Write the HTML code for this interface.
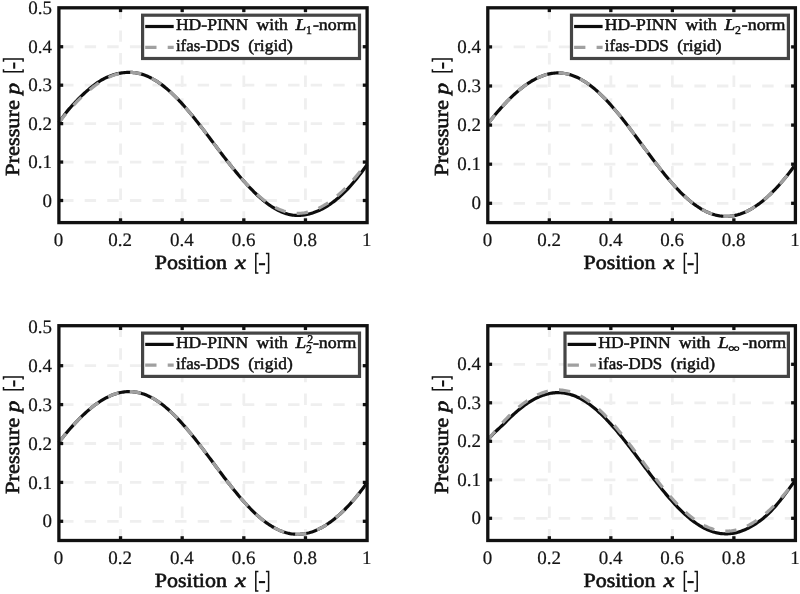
<!DOCTYPE html>
<html><head><meta charset="utf-8"><title>chart</title>
<style>
html,body{margin:0;padding:0;background:#fff;}
#wrap{width:800px;height:594px;overflow:hidden;will-change:transform;transform:translateZ(0);}
svg{display:block;font-family:"Liberation Serif",serif;text-rendering:geometricPrecision;}
.grid{stroke:#efefef;stroke-width:2.8;stroke-dasharray:11.4 11.2;fill:none}
.blk{stroke:#0d0d0d;stroke-width:3.2;fill:none;stroke-linejoin:round}
.gry{stroke:#a0a0a0;stroke-width:3.2;fill:none;stroke-dasharray:11.3 11.2;stroke-linejoin:round}
.tick{stroke:#111;stroke-width:3.3}
.box{stroke:#111;stroke-width:3.3;fill:none}
.lbox{stroke:#454545;stroke-width:3.2;fill:#fff}
.tl{font-size:19px;fill:#151515;stroke:#151515;stroke-width:0.2}
.al{font-size:20px;fill:#111;stroke:#111;stroke-width:0.6}
.lt{font-size:16.6px;fill:#111;stroke:#111;stroke-width:0.5}
.it{font-style:italic}
.brk{fill:none;stroke:#111;stroke-width:1.5}
.hyp{fill:none;stroke:#111;stroke-width:2.1}
.sub{font-size:11.8px;fill:#111;stroke:#111;stroke-width:0.45}
</style></head>
<body>
<div id="wrap">
<svg width="800" height="594" viewBox="0 0 800 594">
<rect width="800" height="594" fill="#fff"/>
<line x1="120.54" y1="222.6" x2="120.54" y2="7.8" class="grid"/>
<line x1="182.18" y1="222.6" x2="182.18" y2="7.8" class="grid"/>
<line x1="243.82" y1="222.6" x2="243.82" y2="7.8" class="grid"/>
<line x1="305.46" y1="222.6" x2="305.46" y2="7.8" class="grid"/>
<line x1="62.1" y1="200.50" x2="367.1" y2="200.50" class="grid"/>
<line x1="62.1" y1="162.06" x2="367.1" y2="162.06" class="grid"/>
<line x1="62.1" y1="123.62" x2="367.1" y2="123.62" class="grid"/>
<line x1="62.1" y1="85.18" x2="367.1" y2="85.18" class="grid"/>
<line x1="62.1" y1="46.74" x2="367.1" y2="46.74" class="grid"/>
<polyline points="58.90,122.41 60.18,120.73 61.47,118.98 62.75,117.19 64.04,115.39 65.32,113.63 66.61,111.95 67.89,110.38 69.17,108.90 70.46,107.46 71.74,106.03 73.03,104.63 74.31,103.25 75.59,101.89 76.88,100.55 78.16,99.24 79.45,97.95 80.73,96.69 82.02,95.45 83.30,94.23 84.58,93.05 85.87,91.88 87.15,90.75 88.44,89.64 89.72,88.56 91.00,87.50 92.29,86.48 93.57,85.48 94.86,84.52 96.14,83.58 97.43,82.68 98.71,81.82 99.99,81.01 101.28,80.23 102.56,79.50 103.85,78.80 105.13,78.15 106.41,77.53 107.70,76.95 108.98,76.41 110.27,75.91 111.55,75.44 112.84,75.01 114.12,74.61 115.40,74.24 116.69,73.91 117.97,73.62 119.26,73.35 120.54,73.12 121.82,72.92 123.11,72.75 124.39,72.60 125.68,72.49 126.96,72.40 128.25,72.35 129.53,72.34 130.81,72.37 132.10,72.43 133.38,72.54 134.67,72.69 135.95,72.87 137.23,73.10 138.52,73.36 139.80,73.66 141.09,74.00 142.37,74.39 143.66,74.81 144.94,75.27 146.22,75.76 147.51,76.30 148.79,76.88 150.08,77.49 151.36,78.14 152.64,78.83 153.93,79.55 155.21,80.31 156.50,81.11 157.78,81.94 159.07,82.81 160.35,83.71 161.63,84.65 162.92,85.62 164.20,86.63 165.49,87.67 166.77,88.74 168.05,89.84 169.34,90.97 170.62,92.13 171.91,93.33 173.19,94.55 174.48,95.80 175.76,97.08 177.04,98.38 178.33,99.72 179.61,101.07 180.90,102.45 182.18,103.86 183.46,105.29 184.75,106.74 186.03,108.21 187.32,109.70 188.60,111.21 189.89,112.74 191.17,114.29 192.45,115.86 193.74,117.44 195.02,119.03 196.31,120.64 197.59,122.27 198.87,123.90 200.16,125.55 201.44,127.21 202.73,128.87 204.01,130.55 205.30,132.23 206.58,133.91 207.86,135.61 209.15,137.30 210.43,139.00 211.72,140.71 213.00,142.41 214.28,144.11 215.57,145.81 216.85,147.52 218.14,149.21 219.42,150.91 220.71,152.60 221.99,154.28 223.27,155.95 224.56,157.62 225.84,159.28 227.13,160.93 228.41,162.57 229.69,164.20 230.98,165.81 232.26,167.41 233.55,168.99 234.83,170.56 236.12,172.12 237.40,173.65 238.68,175.17 239.97,176.68 241.25,178.17 242.54,179.64 243.82,181.10 245.10,182.54 246.39,183.96 247.67,185.36 248.96,186.74 250.24,188.09 251.53,189.43 252.81,190.73 254.09,192.02 255.38,193.27 256.66,194.51 257.95,195.71 259.23,196.88 260.51,198.03 261.80,199.14 263.08,200.23 264.37,201.28 265.65,202.30 266.94,203.28 268.22,204.23 269.50,205.15 270.79,206.03 272.07,206.88 273.36,207.69 274.64,208.46 275.92,209.19 277.21,209.89 278.49,210.54 279.78,211.16 281.06,211.74 282.35,212.27 283.63,212.77 284.91,213.23 286.20,213.64 287.48,214.01 288.77,214.34 290.05,214.63 291.33,214.87 292.62,215.07 293.90,215.23 295.19,215.34 296.47,215.41 297.76,215.44 299.04,215.42 300.32,215.36 301.61,215.26 302.89,215.12 304.18,214.95 305.46,214.73 306.74,214.48 308.03,214.20 309.31,213.89 310.60,213.54 311.88,213.16 313.17,212.75 314.45,212.31 315.73,211.84 317.02,211.33 318.30,210.79 319.59,210.21 320.87,209.60 322.15,208.96 323.44,208.28 324.72,207.57 326.01,206.82 327.29,206.04 328.58,205.23 329.86,204.38 331.14,203.49 332.43,202.57 333.71,201.62 335.00,200.63 336.28,199.60 337.56,198.54 338.85,197.44 340.13,196.31 341.42,195.14 342.70,193.93 343.99,192.69 345.27,191.42 346.55,190.12 347.84,188.78 349.12,187.40 350.41,185.98 351.69,184.52 352.97,183.04 354.26,181.51 355.54,179.96 356.83,178.38 358.11,176.76 359.40,175.12 360.68,173.46 361.96,171.77 363.25,170.05 364.53,168.31 365.82,166.55 367.10,164.77" class="blk"/>
<polyline points="58.90,122.41 60.18,120.79 61.47,119.20 62.75,117.62 64.04,116.06 65.32,114.53 66.61,113.02 67.89,111.53 69.17,110.06 70.46,108.61 71.74,107.18 73.03,105.78 74.31,104.40 75.59,103.04 76.88,101.70 78.16,100.39 79.45,99.10 80.73,97.84 82.02,96.60 83.30,95.39 84.58,94.20 85.87,93.04 87.15,91.90 88.44,90.79 89.72,89.71 91.00,88.66 92.29,87.63 93.57,86.64 94.86,85.67 96.14,84.73 97.43,83.83 98.71,82.95 99.99,82.11 101.28,81.29 102.56,80.51 103.85,79.77 105.13,79.05 106.41,78.37 107.70,77.73 108.98,77.12 110.27,76.54 111.55,76.00 112.84,75.50 114.12,75.03 115.40,74.60 116.69,74.20 117.97,73.84 119.26,73.52 120.54,73.24 121.82,73.00 123.11,72.79 124.39,72.62 125.68,72.49 126.96,72.40 128.25,72.35 129.53,72.34 130.81,72.37 132.10,72.43 133.38,72.54 134.67,72.69 135.95,72.87 137.23,73.10 138.52,73.36 139.80,73.66 141.09,74.00 142.37,74.39 143.66,74.81 144.94,75.27 146.22,75.76 147.51,76.30 148.79,76.88 150.08,77.49 151.36,78.14 152.64,78.83 153.93,79.55 155.21,80.31 156.50,81.11 157.78,81.94 159.07,82.81 160.35,83.71 161.63,84.65 162.92,85.62 164.20,86.63 165.49,87.67 166.77,88.74 168.05,89.84 169.34,90.97 170.62,92.13 171.91,93.33 173.19,94.55 174.48,95.80 175.76,97.08 177.04,98.38 178.33,99.72 179.61,101.07 180.90,102.45 182.18,103.86 183.46,105.29 184.75,106.74 186.03,108.21 187.32,109.70 188.60,111.21 189.89,112.74 191.17,114.29 192.45,115.86 193.74,117.44 195.02,119.03 196.31,120.64 197.59,122.27 198.87,123.90 200.16,125.55 201.44,127.21 202.73,128.87 204.01,130.55 205.30,132.23 206.58,133.91 207.86,135.61 209.15,137.30 210.43,139.00 211.72,140.71 213.00,142.41 214.28,144.11 215.57,145.81 216.85,147.52 218.14,149.21 219.42,150.91 220.71,152.60 221.99,154.28 223.27,155.95 224.56,157.62 225.84,159.28 227.13,160.93 228.41,162.57 229.69,164.20 230.98,165.81 232.26,167.41 233.55,168.99 234.83,170.56 236.12,172.12 237.40,173.65 238.68,175.17 239.97,176.67 241.25,178.15 242.54,179.61 243.82,181.04 245.10,182.45 246.39,183.84 247.67,185.21 248.96,186.55 250.24,187.86 251.53,189.15 252.81,190.41 254.09,191.65 255.38,192.85 256.66,194.03 257.95,195.17 259.23,196.29 260.51,197.37 261.80,198.42 263.08,199.44 264.37,200.43 265.65,201.38 266.94,202.30 268.22,203.19 269.50,204.04 270.79,204.86 272.07,205.64 273.36,206.38 274.64,207.09 275.92,207.76 277.21,208.39 278.49,208.99 279.78,209.55 281.06,210.07 282.35,210.55 283.63,211.00 284.91,211.40 286.20,211.77 287.48,212.10 288.77,212.39 290.05,212.64 291.33,212.85 292.62,213.03 293.90,213.16 295.19,213.26 296.47,213.31 297.76,213.33 299.04,213.31 300.32,213.25 301.61,213.15 302.89,213.01 304.18,212.83 305.46,212.62 306.74,212.36 308.03,212.07 309.31,211.74 310.60,211.38 311.88,210.97 313.17,210.53 314.45,210.05 315.73,209.54 317.02,208.99 318.30,208.40 319.59,207.78 320.87,207.12 322.15,206.43 323.44,205.71 324.72,204.94 326.01,204.15 327.29,203.32 328.58,202.46 329.86,201.56 331.14,200.63 332.43,199.67 333.71,198.68 335.00,197.66 336.28,196.60 337.56,195.51 338.85,194.39 340.13,193.25 341.42,192.07 342.70,190.86 343.99,189.62 345.27,188.35 346.55,187.05 347.84,185.72 349.12,184.37 350.41,182.98 351.69,181.56 352.97,180.12 354.26,178.65 355.54,177.14 356.83,175.61 358.11,174.05 359.40,172.46 360.68,170.84 361.96,169.18 363.25,167.50 364.53,165.79 365.82,164.05 367.10,162.27" class="gry"/>
<line x1="120.54" y1="222.6" x2="120.54" y2="218.29999999999998" class="tick"/>
<line x1="120.54" y1="7.8" x2="120.54" y2="12.1" class="tick"/>
<line x1="182.18" y1="222.6" x2="182.18" y2="218.29999999999998" class="tick"/>
<line x1="182.18" y1="7.8" x2="182.18" y2="12.1" class="tick"/>
<line x1="243.82" y1="222.6" x2="243.82" y2="218.29999999999998" class="tick"/>
<line x1="243.82" y1="7.8" x2="243.82" y2="12.1" class="tick"/>
<line x1="305.46" y1="222.6" x2="305.46" y2="218.29999999999998" class="tick"/>
<line x1="305.46" y1="7.8" x2="305.46" y2="12.1" class="tick"/>
<line x1="58.9" y1="200.50" x2="63.199999999999996" y2="200.50" class="tick"/>
<line x1="367.1" y1="200.50" x2="362.8" y2="200.50" class="tick"/>
<line x1="58.9" y1="162.06" x2="63.199999999999996" y2="162.06" class="tick"/>
<line x1="367.1" y1="162.06" x2="362.8" y2="162.06" class="tick"/>
<line x1="58.9" y1="123.62" x2="63.199999999999996" y2="123.62" class="tick"/>
<line x1="367.1" y1="123.62" x2="362.8" y2="123.62" class="tick"/>
<line x1="58.9" y1="85.18" x2="63.199999999999996" y2="85.18" class="tick"/>
<line x1="367.1" y1="85.18" x2="362.8" y2="85.18" class="tick"/>
<line x1="58.9" y1="46.74" x2="63.199999999999996" y2="46.74" class="tick"/>
<line x1="367.1" y1="46.74" x2="362.8" y2="46.74" class="tick"/>
<rect x="58.9" y="7.8" width="308.20" height="214.80" class="box"/>
<text x="58.60" y="246.20" class="tl" text-anchor="middle">0</text>
<text x="120.24" y="246.20" class="tl" text-anchor="middle">0.2</text>
<text x="181.88" y="246.20" class="tl" text-anchor="middle">0.4</text>
<text x="243.52" y="246.20" class="tl" text-anchor="middle">0.6</text>
<text x="305.16" y="246.20" class="tl" text-anchor="middle">0.8</text>
<text x="366.80" y="246.20" class="tl" text-anchor="middle">1</text>
<text x="52.10" y="206.60" class="tl" text-anchor="end">0</text>
<text x="52.10" y="168.16" class="tl" text-anchor="end">0.1</text>
<text x="52.10" y="129.72" class="tl" text-anchor="end">0.2</text>
<text x="52.10" y="91.28" class="tl" text-anchor="end">0.3</text>
<text x="52.10" y="52.84" class="tl" text-anchor="end">0.4</text>
<text x="52.10" y="14.40" class="tl" text-anchor="end">0.5</text>
<text x="154.80" y="268.90" class="al" text-anchor="start" textLength="72.20" lengthAdjust="spacingAndGlyphs">Position</text>
<text x="235.00" y="268.90" class="al it" text-anchor="start" textLength="11.00" lengthAdjust="spacingAndGlyphs">x</text>
<path d="M258.40,253.50 H255.80 V273.10 H258.40" class="brk"/><path d="M258.90,264.20 H265.10" class="hyp"/><path d="M265.90,253.50 H268.60 V273.10 H265.90" class="brk"/>
<g transform="translate(18.90,115.80) rotate(-90)">
<text x="-60.20" y="0.00" class="al" text-anchor="start" textLength="76.00" lengthAdjust="spacingAndGlyphs">Pressure</text>
<text x="21.40" y="0.00" class="al it" text-anchor="start" textLength="11.60" lengthAdjust="spacingAndGlyphs">p</text>
<path d="M46.60,-15.40 H44.00 V4.20 H46.60" class="brk"/><path d="M47.10,-4.70 H53.30" class="hyp"/><path d="M54.10,-15.40 H56.80 V4.20 H54.10" class="brk"/>
</g>
<rect x="142.60" y="15.20" width="216.90" height="43.30" class="lbox"/>
<line x1="145.20" y1="26.50" x2="173.70" y2="26.50" class="blk"/>
<line x1="145.20" y1="47.30" x2="173.70" y2="47.30" class="gry"/>
<text x="175.90" y="30.20" class="lt" text-anchor="start" textLength="72.40" lengthAdjust="spacingAndGlyphs">HD-PINN</text>
<text x="256.50" y="30.20" class="lt" text-anchor="start" textLength="31.40" lengthAdjust="spacingAndGlyphs">with</text>
<text x="295.50" y="30.20" class="lt it" text-anchor="start" textLength="10.80" lengthAdjust="spacingAndGlyphs">L</text>
<text x="306.10" y="33.80" class="sub" text-anchor="start">1</text>
<text x="312.90" y="30.20" class="lt" text-anchor="start" textLength="43.60" lengthAdjust="spacingAndGlyphs">-norm</text>
<text x="175.90" y="51.40" class="lt" text-anchor="start" textLength="64.00" lengthAdjust="spacingAndGlyphs">ifas-DDS</text>
<text x="248.30" y="51.40" class="lt" text-anchor="start" textLength="44.40" lengthAdjust="spacingAndGlyphs">(rigid)</text>
<line x1="549.32" y1="222.6" x2="549.32" y2="7.8" class="grid"/>
<line x1="610.84" y1="222.6" x2="610.84" y2="7.8" class="grid"/>
<line x1="672.36" y1="222.6" x2="672.36" y2="7.8" class="grid"/>
<line x1="733.88" y1="222.6" x2="733.88" y2="7.8" class="grid"/>
<line x1="491.0" y1="203.30" x2="795.4" y2="203.30" class="grid"/>
<line x1="491.0" y1="164.20" x2="795.4" y2="164.20" class="grid"/>
<line x1="491.0" y1="125.10" x2="795.4" y2="125.10" class="grid"/>
<line x1="491.0" y1="86.00" x2="795.4" y2="86.00" class="grid"/>
<line x1="491.0" y1="46.90" x2="795.4" y2="46.90" class="grid"/>
<polyline points="487.80,123.87 489.08,122.23 490.36,120.60 491.65,119.00 492.93,117.42 494.21,115.85 495.49,114.32 496.77,112.80 498.05,111.30 499.34,109.83 500.62,108.38 501.90,106.95 503.18,105.55 504.46,104.17 505.74,102.81 507.03,101.47 508.31,100.16 509.59,98.88 510.87,97.62 512.15,96.38 513.43,95.17 514.72,93.99 516.00,92.84 517.28,91.71 518.56,90.61 519.84,89.54 521.12,88.49 522.40,87.48 523.69,86.50 524.97,85.54 526.25,84.62 527.53,83.73 528.81,82.87 530.10,82.05 531.38,81.25 532.66,80.49 533.94,79.77 535.22,79.08 536.50,78.42 537.78,77.80 539.07,77.21 540.35,76.66 541.63,76.15 542.91,75.67 544.19,75.23 545.48,74.83 546.76,74.47 548.04,74.14 549.32,73.85 550.60,73.61 551.88,73.40 553.16,73.23 554.45,73.09 555.73,73.00 557.01,72.95 558.29,72.94 559.57,72.97 560.86,73.04 562.14,73.14 563.42,73.29 564.70,73.48 565.98,73.71 567.26,73.98 568.54,74.28 569.83,74.63 571.11,75.02 572.39,75.45 573.67,75.92 574.95,76.42 576.24,76.97 577.52,77.55 578.80,78.18 580.08,78.84 581.36,79.54 582.64,80.27 583.92,81.05 585.21,81.86 586.49,82.71 587.77,83.59 589.05,84.51 590.33,85.46 591.62,86.45 592.90,87.47 594.18,88.53 595.46,89.62 596.74,90.74 598.02,91.89 599.30,93.07 600.59,94.29 601.87,95.53 603.15,96.80 604.43,98.10 605.71,99.43 607.00,100.78 608.28,102.16 609.56,103.57 610.84,105.00 612.12,106.45 613.40,107.93 614.68,109.42 615.97,110.94 617.25,112.48 618.53,114.04 619.81,115.61 621.09,117.20 622.38,118.81 623.66,120.44 624.94,122.07 626.22,123.72 627.50,125.39 628.78,127.06 630.07,128.75 631.35,130.44 632.63,132.14 633.91,133.85 635.19,135.57 636.47,137.29 637.75,139.02 639.04,140.75 640.32,142.48 641.60,144.21 642.88,145.94 644.16,147.68 645.44,149.41 646.73,151.13 648.01,152.86 649.29,154.57 650.57,156.28 651.85,157.99 653.13,159.69 654.42,161.37 655.70,163.05 656.98,164.72 658.26,166.37 659.54,168.01 660.83,169.64 662.11,171.25 663.39,172.85 664.67,174.43 665.95,175.99 667.23,177.54 668.51,179.06 669.80,180.56 671.08,182.05 672.36,183.51 673.64,184.94 674.92,186.36 676.21,187.75 677.49,189.11 678.77,190.45 680.05,191.76 681.33,193.04 682.61,194.29 683.89,195.52 685.18,196.72 686.46,197.88 687.74,199.01 689.02,200.12 690.30,201.19 691.59,202.22 692.87,203.23 694.15,204.20 695.43,205.13 696.71,206.04 697.99,206.90 699.27,207.73 700.56,208.52 701.84,209.28 703.12,210.00 704.40,210.68 705.68,211.33 706.97,211.93 708.25,212.50 709.53,213.03 710.81,213.52 712.09,213.98 713.37,214.39 714.65,214.76 715.94,215.10 717.22,215.39 718.50,215.65 719.78,215.86 721.06,216.04 722.35,216.18 723.63,216.27 724.91,216.33 726.19,216.35 727.47,216.33 728.75,216.26 730.03,216.16 731.32,216.02 732.60,215.84 733.88,215.62 735.16,215.37 736.44,215.07 737.73,214.74 739.01,214.36 740.29,213.95 741.57,213.50 742.85,213.02 744.13,212.50 745.41,211.94 746.70,211.34 747.98,210.71 749.26,210.04 750.54,209.33 751.82,208.60 753.11,207.82 754.39,207.01 755.67,206.17 756.95,205.29 758.23,204.38 759.51,203.44 760.79,202.46 762.08,201.45 763.36,200.41 764.64,199.33 765.92,198.23 767.20,197.09 768.48,195.92 769.77,194.72 771.05,193.49 772.33,192.23 773.61,190.94 774.89,189.62 776.17,188.27 777.46,186.89 778.74,185.48 780.02,184.04 781.30,182.57 782.58,181.07 783.87,179.54 785.15,177.98 786.43,176.39 787.71,174.78 788.99,173.13 790.27,171.45 791.56,169.74 792.84,167.99 794.12,166.22 795.40,164.41" class="blk"/>
<polyline points="487.80,123.87 489.08,122.23 490.36,120.60 491.65,119.00 492.93,117.42 494.21,115.85 495.49,114.32 496.77,112.80 498.05,111.30 499.34,109.83 500.62,108.38 501.90,106.95 503.18,105.55 504.46,104.17 505.74,102.81 507.03,101.47 508.31,100.16 509.59,98.88 510.87,97.62 512.15,96.38 513.43,95.17 514.72,93.99 516.00,92.84 517.28,91.71 518.56,90.61 519.84,89.54 521.12,88.49 522.40,87.48 523.69,86.50 524.97,85.54 526.25,84.62 527.53,83.73 528.81,82.87 530.10,82.05 531.38,81.25 532.66,80.49 533.94,79.77 535.22,79.08 536.50,78.42 537.78,77.80 539.07,77.21 540.35,76.66 541.63,76.15 542.91,75.67 544.19,75.23 545.48,74.83 546.76,74.47 548.04,74.14 549.32,73.85 550.60,73.61 551.88,73.40 553.16,73.23 554.45,73.09 555.73,73.00 557.01,72.95 558.29,72.94 559.57,72.97 560.86,73.04 562.14,73.14 563.42,73.29 564.70,73.48 565.98,73.71 567.26,73.98 568.54,74.28 569.83,74.63 571.11,75.02 572.39,75.45 573.67,75.92 574.95,76.42 576.24,76.97 577.52,77.55 578.80,78.18 580.08,78.84 581.36,79.54 582.64,80.27 583.92,81.05 585.21,81.86 586.49,82.71 587.77,83.59 589.05,84.51 590.33,85.46 591.62,86.45 592.90,87.47 594.18,88.53 595.46,89.62 596.74,90.74 598.02,91.89 599.30,93.07 600.59,94.29 601.87,95.53 603.15,96.80 604.43,98.10 605.71,99.43 607.00,100.78 608.28,102.16 609.56,103.57 610.84,105.00 612.12,106.45 613.40,107.93 614.68,109.42 615.97,110.94 617.25,112.48 618.53,114.04 619.81,115.61 621.09,117.20 622.38,118.81 623.66,120.44 624.94,122.07 626.22,123.72 627.50,125.39 628.78,127.06 630.07,128.75 631.35,130.44 632.63,132.14 633.91,133.85 635.19,135.57 636.47,137.29 637.75,139.02 639.04,140.75 640.32,142.48 641.60,144.21 642.88,145.94 644.16,147.68 645.44,149.41 646.73,151.13 648.01,152.86 649.29,154.57 650.57,156.28 651.85,157.99 653.13,159.69 654.42,161.37 655.70,163.05 656.98,164.72 658.26,166.37 659.54,168.01 660.83,169.64 662.11,171.25 663.39,172.85 664.67,174.43 665.95,175.99 667.23,177.54 668.51,179.06 669.80,180.56 671.08,182.05 672.36,183.51 673.64,184.94 674.92,186.36 676.21,187.75 677.49,189.11 678.77,190.45 680.05,191.76 681.33,193.04 682.61,194.29 683.89,195.52 685.18,196.72 686.46,197.88 687.74,199.01 689.02,200.12 690.30,201.19 691.59,202.22 692.87,203.23 694.15,204.20 695.43,205.13 696.71,206.04 697.99,206.90 699.27,207.73 700.56,208.52 701.84,209.28 703.12,210.00 704.40,210.68 705.68,211.33 706.97,211.93 708.25,212.50 709.53,213.03 710.81,213.52 712.09,213.98 713.37,214.39 714.65,214.76 715.94,215.10 717.22,215.39 718.50,215.65 719.78,215.86 721.06,216.04 722.35,216.18 723.63,216.27 724.91,216.33 726.19,216.35 727.47,216.33 728.75,216.26 730.03,216.16 731.32,216.02 732.60,215.84 733.88,215.62 735.16,215.37 736.44,215.07 737.73,214.74 739.01,214.36 740.29,213.95 741.57,213.50 742.85,213.02 744.13,212.50 745.41,211.94 746.70,211.34 747.98,210.71 749.26,210.04 750.54,209.33 751.82,208.60 753.11,207.82 754.39,207.01 755.67,206.17 756.95,205.29 758.23,204.38 759.51,203.44 760.79,202.46 762.08,201.45 763.36,200.41 764.64,199.33 765.92,198.23 767.20,197.09 768.48,195.92 769.77,194.72 771.05,193.49 772.33,192.23 773.61,190.94 774.89,189.62 776.17,188.27 777.46,186.89 778.74,185.48 780.02,184.04 781.30,182.57 782.58,181.07 783.87,179.54 785.15,177.98 786.43,176.39 787.71,174.78 788.99,173.13 790.27,171.45 791.56,169.74 792.84,167.99 794.12,166.22 795.40,164.41" class="gry"/>
<line x1="549.32" y1="222.6" x2="549.32" y2="218.29999999999998" class="tick"/>
<line x1="549.32" y1="7.8" x2="549.32" y2="12.1" class="tick"/>
<line x1="610.84" y1="222.6" x2="610.84" y2="218.29999999999998" class="tick"/>
<line x1="610.84" y1="7.8" x2="610.84" y2="12.1" class="tick"/>
<line x1="672.36" y1="222.6" x2="672.36" y2="218.29999999999998" class="tick"/>
<line x1="672.36" y1="7.8" x2="672.36" y2="12.1" class="tick"/>
<line x1="733.88" y1="222.6" x2="733.88" y2="218.29999999999998" class="tick"/>
<line x1="733.88" y1="7.8" x2="733.88" y2="12.1" class="tick"/>
<line x1="487.8" y1="203.30" x2="492.1" y2="203.30" class="tick"/>
<line x1="795.4" y1="203.30" x2="791.1" y2="203.30" class="tick"/>
<line x1="487.8" y1="164.20" x2="492.1" y2="164.20" class="tick"/>
<line x1="795.4" y1="164.20" x2="791.1" y2="164.20" class="tick"/>
<line x1="487.8" y1="125.10" x2="492.1" y2="125.10" class="tick"/>
<line x1="795.4" y1="125.10" x2="791.1" y2="125.10" class="tick"/>
<line x1="487.8" y1="86.00" x2="492.1" y2="86.00" class="tick"/>
<line x1="795.4" y1="86.00" x2="791.1" y2="86.00" class="tick"/>
<line x1="487.8" y1="46.90" x2="492.1" y2="46.90" class="tick"/>
<line x1="795.4" y1="46.90" x2="791.1" y2="46.90" class="tick"/>
<rect x="487.8" y="7.8" width="307.60" height="214.80" class="box"/>
<text x="487.50" y="246.20" class="tl" text-anchor="middle">0</text>
<text x="549.02" y="246.20" class="tl" text-anchor="middle">0.2</text>
<text x="610.54" y="246.20" class="tl" text-anchor="middle">0.4</text>
<text x="672.06" y="246.20" class="tl" text-anchor="middle">0.6</text>
<text x="733.58" y="246.20" class="tl" text-anchor="middle">0.8</text>
<text x="795.10" y="246.20" class="tl" text-anchor="middle">1</text>
<text x="481.00" y="209.40" class="tl" text-anchor="end">0</text>
<text x="481.00" y="170.30" class="tl" text-anchor="end">0.1</text>
<text x="481.00" y="131.20" class="tl" text-anchor="end">0.2</text>
<text x="481.00" y="92.10" class="tl" text-anchor="end">0.3</text>
<text x="481.00" y="53.00" class="tl" text-anchor="end">0.4</text>
<text x="583.40" y="268.90" class="al" text-anchor="start" textLength="72.20" lengthAdjust="spacingAndGlyphs">Position</text>
<text x="663.60" y="268.90" class="al it" text-anchor="start" textLength="11.00" lengthAdjust="spacingAndGlyphs">x</text>
<path d="M687.00,253.50 H684.40 V273.10 H687.00" class="brk"/><path d="M687.50,264.20 H693.70" class="hyp"/><path d="M694.50,253.50 H697.20 V273.10 H694.50" class="brk"/>
<g transform="translate(447.80,115.80) rotate(-90)">
<text x="-60.20" y="0.00" class="al" text-anchor="start" textLength="76.00" lengthAdjust="spacingAndGlyphs">Pressure</text>
<text x="21.40" y="0.00" class="al it" text-anchor="start" textLength="11.60" lengthAdjust="spacingAndGlyphs">p</text>
<path d="M46.60,-15.40 H44.00 V4.20 H46.60" class="brk"/><path d="M47.10,-4.70 H53.30" class="hyp"/><path d="M54.10,-15.40 H56.80 V4.20 H54.10" class="brk"/>
</g>
<rect x="571.50" y="15.20" width="216.90" height="43.30" class="lbox"/>
<line x1="574.10" y1="26.50" x2="602.60" y2="26.50" class="blk"/>
<line x1="574.10" y1="47.30" x2="602.60" y2="47.30" class="gry"/>
<text x="604.80" y="30.20" class="lt" text-anchor="start" textLength="72.40" lengthAdjust="spacingAndGlyphs">HD-PINN</text>
<text x="685.40" y="30.20" class="lt" text-anchor="start" textLength="31.40" lengthAdjust="spacingAndGlyphs">with</text>
<text x="724.40" y="30.20" class="lt it" text-anchor="start" textLength="10.80" lengthAdjust="spacingAndGlyphs">L</text>
<text x="735.00" y="33.80" class="sub" text-anchor="start">2</text>
<text x="741.80" y="30.20" class="lt" text-anchor="start" textLength="43.60" lengthAdjust="spacingAndGlyphs">-norm</text>
<text x="604.80" y="51.40" class="lt" text-anchor="start" textLength="64.00" lengthAdjust="spacingAndGlyphs">ifas-DDS</text>
<text x="677.20" y="51.40" class="lt" text-anchor="start" textLength="44.40" lengthAdjust="spacingAndGlyphs">(rigid)</text>
<line x1="120.54" y1="540.5" x2="120.54" y2="325.7" class="grid"/>
<line x1="182.18" y1="540.5" x2="182.18" y2="325.7" class="grid"/>
<line x1="243.82" y1="540.5" x2="243.82" y2="325.7" class="grid"/>
<line x1="305.46" y1="540.5" x2="305.46" y2="325.7" class="grid"/>
<line x1="62.1" y1="521.30" x2="367.1" y2="521.30" class="grid"/>
<line x1="62.1" y1="482.40" x2="367.1" y2="482.40" class="grid"/>
<line x1="62.1" y1="443.50" x2="367.1" y2="443.50" class="grid"/>
<line x1="62.1" y1="404.60" x2="367.1" y2="404.60" class="grid"/>
<line x1="62.1" y1="365.70" x2="367.1" y2="365.70" class="grid"/>
<polyline points="58.90,442.28 60.18,440.64 61.47,439.02 62.75,437.43 64.04,435.85 65.32,434.30 66.61,432.77 67.89,431.26 69.17,429.78 70.46,428.31 71.74,426.87 73.03,425.45 74.31,424.05 75.59,422.67 76.88,421.32 78.16,419.99 79.45,418.69 80.73,417.41 82.02,416.16 83.30,414.93 84.58,413.73 85.87,412.55 87.15,411.40 88.44,410.28 89.72,409.18 91.00,408.12 92.29,407.08 93.57,406.07 94.86,405.09 96.14,404.15 97.43,403.23 98.71,402.34 99.99,401.49 101.28,400.67 102.56,399.88 103.85,399.12 105.13,398.40 106.41,397.71 107.70,397.06 108.98,396.44 110.27,395.86 111.55,395.31 112.84,394.80 114.12,394.33 115.40,393.89 116.69,393.49 117.97,393.13 119.26,392.80 120.54,392.52 121.82,392.27 123.11,392.06 124.39,391.89 125.68,391.76 126.96,391.67 128.25,391.62 129.53,391.61 130.81,391.63 132.10,391.70 133.38,391.81 134.67,391.96 135.95,392.14 137.23,392.37 138.52,392.64 139.80,392.94 141.09,393.29 142.37,393.68 143.66,394.10 144.94,394.57 146.22,395.07 147.51,395.61 148.79,396.20 150.08,396.82 151.36,397.47 152.64,398.17 153.93,398.90 155.21,399.67 156.50,400.48 157.78,401.32 159.07,402.20 160.35,403.12 161.63,404.06 162.92,405.05 164.20,406.07 165.49,407.12 166.77,408.20 168.05,409.31 169.34,410.46 170.62,411.64 171.91,412.84 173.19,414.08 174.48,415.35 175.76,416.64 177.04,417.96 178.33,419.31 179.61,420.68 180.90,422.08 182.18,423.50 183.46,424.95 184.75,426.42 186.03,427.90 187.32,429.41 188.60,430.94 189.89,432.49 191.17,434.06 192.45,435.64 193.74,437.24 195.02,438.86 196.31,440.49 197.59,442.13 198.87,443.79 200.16,445.45 201.44,447.13 202.73,448.81 204.01,450.51 205.30,452.21 206.58,453.92 207.86,455.63 209.15,457.35 210.43,459.07 211.72,460.79 213.00,462.51 214.28,464.24 215.57,465.96 216.85,467.68 218.14,469.40 219.42,471.11 220.71,472.82 221.99,474.53 223.27,476.22 224.56,477.91 225.84,479.59 227.13,481.26 228.41,482.92 229.69,484.56 230.98,486.19 232.26,487.81 233.55,489.42 234.83,491.01 236.12,492.58 237.40,494.13 238.68,495.67 239.97,497.18 241.25,498.68 242.54,500.16 243.82,501.61 245.10,503.04 246.39,504.44 247.67,505.83 248.96,507.18 250.24,508.51 251.53,509.82 252.81,511.09 254.09,512.34 255.38,513.56 256.66,514.75 257.95,515.91 259.23,517.04 260.51,518.13 261.80,519.20 263.08,520.23 264.37,521.23 265.65,522.19 266.94,523.13 268.22,524.02 269.50,524.88 270.79,525.71 272.07,526.50 273.36,527.25 274.64,527.97 275.92,528.64 277.21,529.29 278.49,529.89 279.78,530.46 281.06,530.98 282.35,531.47 283.63,531.92 284.91,532.33 286.20,532.71 287.48,533.04 288.77,533.33 290.05,533.59 291.33,533.80 292.62,533.98 293.90,534.11 295.19,534.21 296.47,534.26 297.76,534.28 299.04,534.26 300.32,534.20 301.61,534.10 302.89,533.96 304.18,533.78 305.46,533.56 306.74,533.31 308.03,533.01 309.31,532.68 310.60,532.31 311.88,531.90 313.17,531.45 314.45,530.97 315.73,530.45 317.02,529.89 318.30,529.30 319.59,528.67 320.87,528.00 322.15,527.30 323.44,526.57 324.72,525.80 326.01,524.99 327.29,524.15 328.58,523.28 329.86,522.37 331.14,521.44 332.43,520.46 333.71,519.46 335.00,518.42 336.28,517.35 337.56,516.25 338.85,515.12 340.13,513.96 341.42,512.77 342.70,511.54 343.99,510.29 345.27,509.00 346.55,507.69 347.84,506.35 349.12,504.97 350.41,503.57 351.69,502.14 352.97,500.68 354.26,499.18 355.54,497.66 356.83,496.11 358.11,494.53 359.40,492.92 360.68,491.28 361.96,489.61 363.25,487.91 364.53,486.17 365.82,484.41 367.10,482.61" class="blk"/>
<polyline points="58.90,442.28 60.18,440.64 61.47,439.02 62.75,437.43 64.04,435.85 65.32,434.30 66.61,432.77 67.89,431.26 69.17,429.78 70.46,428.31 71.74,426.87 73.03,425.45 74.31,424.05 75.59,422.67 76.88,421.32 78.16,419.99 79.45,418.69 80.73,417.41 82.02,416.16 83.30,414.93 84.58,413.73 85.87,412.55 87.15,411.40 88.44,410.28 89.72,409.18 91.00,408.12 92.29,407.08 93.57,406.07 94.86,405.09 96.14,404.15 97.43,403.23 98.71,402.34 99.99,401.49 101.28,400.67 102.56,399.88 103.85,399.12 105.13,398.40 106.41,397.71 107.70,397.06 108.98,396.44 110.27,395.86 111.55,395.31 112.84,394.80 114.12,394.33 115.40,393.89 116.69,393.49 117.97,393.13 119.26,392.80 120.54,392.52 121.82,392.27 123.11,392.06 124.39,391.89 125.68,391.76 126.96,391.67 128.25,391.62 129.53,391.61 130.81,391.63 132.10,391.70 133.38,391.81 134.67,391.96 135.95,392.14 137.23,392.37 138.52,392.64 139.80,392.94 141.09,393.29 142.37,393.68 143.66,394.10 144.94,394.57 146.22,395.07 147.51,395.61 148.79,396.20 150.08,396.82 151.36,397.47 152.64,398.17 153.93,398.90 155.21,399.67 156.50,400.48 157.78,401.32 159.07,402.20 160.35,403.12 161.63,404.06 162.92,405.05 164.20,406.07 165.49,407.12 166.77,408.20 168.05,409.31 169.34,410.46 170.62,411.64 171.91,412.84 173.19,414.08 174.48,415.35 175.76,416.64 177.04,417.96 178.33,419.31 179.61,420.68 180.90,422.08 182.18,423.50 183.46,424.95 184.75,426.42 186.03,427.90 187.32,429.41 188.60,430.94 189.89,432.49 191.17,434.06 192.45,435.64 193.74,437.24 195.02,438.86 196.31,440.49 197.59,442.13 198.87,443.79 200.16,445.45 201.44,447.13 202.73,448.81 204.01,450.51 205.30,452.21 206.58,453.92 207.86,455.63 209.15,457.35 210.43,459.07 211.72,460.79 213.00,462.51 214.28,464.24 215.57,465.96 216.85,467.68 218.14,469.40 219.42,471.11 220.71,472.82 221.99,474.53 223.27,476.22 224.56,477.91 225.84,479.59 227.13,481.26 228.41,482.92 229.69,484.56 230.98,486.19 232.26,487.81 233.55,489.42 234.83,491.01 236.12,492.58 237.40,494.13 238.68,495.67 239.97,497.18 241.25,498.68 242.54,500.16 243.82,501.61 245.10,503.04 246.39,504.44 247.67,505.83 248.96,507.18 250.24,508.51 251.53,509.82 252.81,511.09 254.09,512.34 255.38,513.56 256.66,514.75 257.95,515.91 259.23,517.04 260.51,518.13 261.80,519.20 263.08,520.23 264.37,521.23 265.65,522.19 266.94,523.13 268.22,524.02 269.50,524.88 270.79,525.71 272.07,526.50 273.36,527.25 274.64,527.97 275.92,528.64 277.21,529.29 278.49,529.89 279.78,530.46 281.06,530.98 282.35,531.47 283.63,531.92 284.91,532.33 286.20,532.71 287.48,533.04 288.77,533.33 290.05,533.59 291.33,533.80 292.62,533.98 293.90,534.11 295.19,534.21 296.47,534.26 297.76,534.28 299.04,534.26 300.32,534.20 301.61,534.10 302.89,533.96 304.18,533.78 305.46,533.56 306.74,533.31 308.03,533.01 309.31,532.68 310.60,532.31 311.88,531.90 313.17,531.45 314.45,530.97 315.73,530.45 317.02,529.89 318.30,529.30 319.59,528.67 320.87,528.00 322.15,527.30 323.44,526.57 324.72,525.80 326.01,524.99 327.29,524.15 328.58,523.28 329.86,522.37 331.14,521.44 332.43,520.46 333.71,519.46 335.00,518.42 336.28,517.35 337.56,516.25 338.85,515.12 340.13,513.96 341.42,512.77 342.70,511.54 343.99,510.29 345.27,509.00 346.55,507.69 347.84,506.35 349.12,504.97 350.41,503.57 351.69,502.14 352.97,500.68 354.26,499.18 355.54,497.66 356.83,496.11 358.11,494.53 359.40,492.92 360.68,491.28 361.96,489.61 363.25,487.91 364.53,486.17 365.82,484.41 367.10,482.61" class="gry"/>
<line x1="120.54" y1="540.5" x2="120.54" y2="536.2" class="tick"/>
<line x1="120.54" y1="325.7" x2="120.54" y2="330.0" class="tick"/>
<line x1="182.18" y1="540.5" x2="182.18" y2="536.2" class="tick"/>
<line x1="182.18" y1="325.7" x2="182.18" y2="330.0" class="tick"/>
<line x1="243.82" y1="540.5" x2="243.82" y2="536.2" class="tick"/>
<line x1="243.82" y1="325.7" x2="243.82" y2="330.0" class="tick"/>
<line x1="305.46" y1="540.5" x2="305.46" y2="536.2" class="tick"/>
<line x1="305.46" y1="325.7" x2="305.46" y2="330.0" class="tick"/>
<line x1="58.9" y1="521.30" x2="63.199999999999996" y2="521.30" class="tick"/>
<line x1="367.1" y1="521.30" x2="362.8" y2="521.30" class="tick"/>
<line x1="58.9" y1="482.40" x2="63.199999999999996" y2="482.40" class="tick"/>
<line x1="367.1" y1="482.40" x2="362.8" y2="482.40" class="tick"/>
<line x1="58.9" y1="443.50" x2="63.199999999999996" y2="443.50" class="tick"/>
<line x1="367.1" y1="443.50" x2="362.8" y2="443.50" class="tick"/>
<line x1="58.9" y1="404.60" x2="63.199999999999996" y2="404.60" class="tick"/>
<line x1="367.1" y1="404.60" x2="362.8" y2="404.60" class="tick"/>
<line x1="58.9" y1="365.70" x2="63.199999999999996" y2="365.70" class="tick"/>
<line x1="367.1" y1="365.70" x2="362.8" y2="365.70" class="tick"/>
<rect x="58.9" y="325.7" width="308.20" height="214.80" class="box"/>
<text x="58.60" y="564.10" class="tl" text-anchor="middle">0</text>
<text x="120.24" y="564.10" class="tl" text-anchor="middle">0.2</text>
<text x="181.88" y="564.10" class="tl" text-anchor="middle">0.4</text>
<text x="243.52" y="564.10" class="tl" text-anchor="middle">0.6</text>
<text x="305.16" y="564.10" class="tl" text-anchor="middle">0.8</text>
<text x="366.80" y="564.10" class="tl" text-anchor="middle">1</text>
<text x="52.10" y="527.40" class="tl" text-anchor="end">0</text>
<text x="52.10" y="488.50" class="tl" text-anchor="end">0.1</text>
<text x="52.10" y="449.60" class="tl" text-anchor="end">0.2</text>
<text x="52.10" y="410.70" class="tl" text-anchor="end">0.3</text>
<text x="52.10" y="371.80" class="tl" text-anchor="end">0.4</text>
<text x="52.10" y="332.90" class="tl" text-anchor="end">0.5</text>
<text x="154.80" y="586.80" class="al" text-anchor="start" textLength="72.20" lengthAdjust="spacingAndGlyphs">Position</text>
<text x="235.00" y="586.80" class="al it" text-anchor="start" textLength="11.00" lengthAdjust="spacingAndGlyphs">x</text>
<path d="M258.40,571.40 H255.80 V591.00 H258.40" class="brk"/><path d="M258.90,582.10 H265.10" class="hyp"/><path d="M265.90,571.40 H268.60 V591.00 H265.90" class="brk"/>
<g transform="translate(18.90,433.70) rotate(-90)">
<text x="-60.20" y="0.00" class="al" text-anchor="start" textLength="76.00" lengthAdjust="spacingAndGlyphs">Pressure</text>
<text x="21.40" y="0.00" class="al it" text-anchor="start" textLength="11.60" lengthAdjust="spacingAndGlyphs">p</text>
<path d="M46.60,-15.40 H44.00 V4.20 H46.60" class="brk"/><path d="M47.10,-4.70 H53.30" class="hyp"/><path d="M54.10,-15.40 H56.80 V4.20 H54.10" class="brk"/>
</g>
<rect x="142.60" y="333.10" width="216.90" height="43.30" class="lbox"/>
<line x1="145.20" y1="344.40" x2="173.70" y2="344.40" class="blk"/>
<line x1="145.20" y1="365.20" x2="173.70" y2="365.20" class="gry"/>
<text x="175.90" y="348.10" class="lt" text-anchor="start" textLength="72.40" lengthAdjust="spacingAndGlyphs">HD-PINN</text>
<text x="256.50" y="348.10" class="lt" text-anchor="start" textLength="31.40" lengthAdjust="spacingAndGlyphs">with</text>
<text x="295.50" y="348.10" class="lt it" text-anchor="start" textLength="10.80" lengthAdjust="spacingAndGlyphs">L</text>
<text x="306.10" y="352.70" class="sub" text-anchor="start">2</text>
<text x="307.30" y="342.50" class="sub" text-anchor="start">2</text>
<text x="312.90" y="348.10" class="lt" text-anchor="start" textLength="43.60" lengthAdjust="spacingAndGlyphs">-norm</text>
<text x="175.90" y="369.30" class="lt" text-anchor="start" textLength="64.00" lengthAdjust="spacingAndGlyphs">ifas-DDS</text>
<text x="248.30" y="369.30" class="lt" text-anchor="start" textLength="44.40" lengthAdjust="spacingAndGlyphs">(rigid)</text>
<line x1="549.32" y1="540.5" x2="549.32" y2="325.7" class="grid"/>
<line x1="610.84" y1="540.5" x2="610.84" y2="325.7" class="grid"/>
<line x1="672.36" y1="540.5" x2="672.36" y2="325.7" class="grid"/>
<line x1="733.88" y1="540.5" x2="733.88" y2="325.7" class="grid"/>
<line x1="491.0" y1="518.30" x2="795.4" y2="518.30" class="grid"/>
<line x1="491.0" y1="479.80" x2="795.4" y2="479.80" class="grid"/>
<line x1="491.0" y1="441.30" x2="795.4" y2="441.30" class="grid"/>
<line x1="491.0" y1="402.80" x2="795.4" y2="402.80" class="grid"/>
<line x1="491.0" y1="364.30" x2="795.4" y2="364.30" class="grid"/>
<polyline points="487.80,440.09 489.08,438.51 490.36,437.01 491.65,435.59 492.93,434.24 494.21,432.95 495.49,431.70 496.77,430.48 498.05,429.29 499.34,428.11 500.62,426.93 501.90,425.75 503.18,424.54 504.46,423.31 505.74,422.04 507.03,420.73 508.31,419.44 509.59,418.18 510.87,416.93 512.15,415.72 513.43,414.53 514.72,413.36 516.00,412.23 517.28,411.12 518.56,410.03 519.84,408.98 521.12,407.95 522.40,406.95 523.69,405.98 524.97,405.05 526.25,404.14 527.53,403.26 528.81,402.42 530.10,401.60 531.38,400.82 532.66,400.07 533.94,399.36 535.22,398.68 536.50,398.03 537.78,397.42 539.07,396.84 540.35,396.30 541.63,395.80 542.91,395.33 544.19,394.89 545.48,394.50 546.76,394.14 548.04,393.82 549.32,393.54 550.60,393.29 551.88,393.08 553.16,392.92 554.45,392.79 555.73,392.70 557.01,392.65 558.29,392.63 559.57,392.66 560.86,392.73 562.14,392.84 563.42,392.98 564.70,393.17 565.98,393.39 567.26,393.66 568.54,393.96 569.83,394.30 571.11,394.68 572.39,395.11 573.67,395.57 574.95,396.06 576.24,396.60 577.52,397.18 578.80,397.79 580.08,398.44 581.36,399.13 582.64,399.86 583.92,400.62 585.21,401.42 586.49,402.25 587.77,403.12 589.05,404.03 590.33,404.97 591.62,405.94 592.90,406.95 594.18,407.98 595.46,409.06 596.74,410.16 598.02,411.29 599.30,412.46 600.59,413.66 601.87,414.88 603.15,416.13 604.43,417.41 605.71,418.72 607.00,420.05 608.28,421.41 609.56,422.80 610.84,424.20 612.12,425.63 613.40,427.09 614.68,428.56 615.97,430.05 617.25,431.57 618.53,433.10 619.81,434.65 621.09,436.22 622.38,437.80 623.66,439.40 624.94,441.01 626.22,442.64 627.50,444.28 628.78,445.93 630.07,447.59 631.35,449.25 632.63,450.93 633.91,452.61 635.19,454.30 636.47,456.00 637.75,457.70 639.04,459.40 640.32,461.11 641.60,462.81 642.88,464.52 644.16,466.22 645.44,467.93 646.73,469.63 648.01,471.32 649.29,473.02 650.57,474.70 651.85,476.38 653.13,478.05 654.42,479.71 655.70,481.36 656.98,483.00 658.26,484.63 659.54,486.25 660.83,487.85 662.11,489.44 663.39,491.01 664.67,492.57 665.95,494.11 667.23,495.63 668.51,497.13 669.80,498.61 671.08,500.07 672.36,501.51 673.64,502.92 674.92,504.31 676.21,505.68 677.49,507.02 678.77,508.34 680.05,509.63 681.33,510.89 682.61,512.13 683.89,513.33 685.18,514.51 686.46,515.66 687.74,516.78 689.02,517.86 690.30,518.91 691.59,519.94 692.87,520.92 694.15,521.88 695.43,522.80 696.71,523.69 697.99,524.54 699.27,525.36 700.56,526.14 701.84,526.88 703.12,527.59 704.40,528.26 705.68,528.90 706.97,529.50 708.25,530.06 709.53,530.58 710.81,531.06 712.09,531.51 713.37,531.91 714.65,532.28 715.94,532.61 717.22,532.90 718.50,533.15 719.78,533.37 721.06,533.54 722.35,533.67 723.63,533.77 724.91,533.83 726.19,533.84 727.47,533.82 728.75,533.76 730.03,533.66 731.32,533.52 732.60,533.35 733.88,533.13 735.16,532.88 736.44,532.59 737.73,532.26 739.01,531.89 740.29,531.48 741.57,531.04 742.85,530.56 744.13,530.05 745.41,529.50 746.70,528.91 747.98,528.29 749.26,527.63 750.54,526.94 751.82,526.21 753.11,525.45 754.39,524.65 755.67,523.82 756.95,522.96 758.23,522.06 759.51,521.13 760.79,520.17 762.08,519.17 763.36,518.15 764.64,517.09 765.92,515.99 767.20,514.83 768.48,513.61 769.77,512.35 771.05,511.04 772.33,509.68 773.61,508.27 774.89,506.83 776.17,505.34 777.46,503.82 778.74,502.27 780.02,500.68 781.30,499.07 782.58,497.42 783.87,495.76 785.15,494.07 786.43,492.36 787.71,490.63 788.99,488.89 790.27,487.14 791.56,485.37 792.84,483.59 794.12,481.80 795.40,480.01" class="blk"/>
<polyline points="487.80,440.09 489.08,438.47 490.36,436.87 491.65,435.29 492.93,433.73 494.21,432.20 495.49,430.68 496.77,429.19 498.05,427.72 499.34,426.27 500.62,424.84 501.90,423.43 503.18,422.05 504.46,420.69 505.74,419.35 507.03,418.04 508.31,416.75 509.59,415.48 510.87,414.24 512.15,413.02 513.43,411.83 514.72,410.67 516.00,409.53 517.28,408.42 518.56,407.34 519.84,406.28 521.12,405.26 522.40,404.26 523.69,403.29 524.97,402.35 526.25,401.44 527.53,400.57 528.81,399.72 530.10,398.91 531.38,398.13 532.66,397.38 533.94,396.66 535.22,395.98 536.50,395.34 537.78,394.72 539.07,394.15 540.35,393.61 541.63,393.10 542.91,392.63 544.19,392.20 545.48,391.80 546.76,391.44 548.04,391.12 549.32,390.84 550.60,390.60 551.88,390.39 553.16,390.22 554.45,390.09 555.73,390.00 557.01,389.95 558.29,389.94 559.57,389.97 560.86,390.03 562.14,390.14 563.42,390.29 564.70,390.47 565.98,390.70 567.26,390.96 568.54,391.26 569.83,391.61 571.11,391.99 572.39,392.41 573.67,392.87 574.95,393.37 576.24,393.91 577.52,394.48 578.80,395.10 580.08,395.75 581.36,396.44 582.64,397.16 583.92,397.92 585.21,398.72 586.49,399.56 587.77,400.43 589.05,401.33 590.33,402.27 591.62,403.24 592.90,404.25 594.18,405.29 595.46,406.36 596.74,407.47 598.02,408.60 599.30,409.77 600.59,410.96 601.87,412.18 603.15,413.44 604.43,414.72 605.71,416.02 607.00,417.36 608.28,418.72 609.56,420.10 610.84,421.51 612.12,422.94 613.40,424.39 614.68,425.87 615.97,427.36 617.25,428.87 618.53,430.41 619.81,431.96 621.09,433.52 622.38,435.11 623.66,436.71 624.94,438.32 626.22,439.94 627.50,441.58 628.78,443.23 630.07,444.89 631.35,446.56 632.63,448.24 633.91,449.92 635.19,451.61 636.47,453.31 637.75,455.00 639.04,456.71 640.32,458.41 641.60,460.12 642.88,461.82 644.16,463.53 645.44,465.23 646.73,466.93 648.01,468.63 649.29,470.32 650.57,472.01 651.85,473.68 653.13,475.36 654.42,477.02 655.70,478.67 656.98,480.31 658.26,481.94 659.54,483.56 660.83,485.16 662.11,486.75 663.39,488.32 664.67,489.87 665.95,491.41 667.23,492.93 668.51,494.43 669.80,495.91 671.08,497.37 672.36,498.81 673.64,500.23 674.92,501.62 676.21,502.98 677.49,504.33 678.77,505.64 680.05,506.93 681.33,508.20 682.61,509.43 683.89,510.64 685.18,511.82 686.46,512.96 687.74,514.08 689.02,515.17 690.30,516.22 691.59,517.24 692.87,518.23 694.15,519.19 695.43,520.11 696.71,520.99 697.99,521.85 699.27,522.66 700.56,523.44 701.84,524.19 703.12,524.90 704.40,525.57 705.68,526.20 706.97,526.80 708.25,527.36 709.53,527.88 710.81,528.37 712.09,528.81 713.37,529.22 714.65,529.59 715.94,529.92 717.22,530.21 718.50,530.46 719.78,530.67 721.06,530.85 722.35,530.98 723.63,531.07 724.91,531.13 726.19,531.15 727.47,531.13 728.75,531.07 730.03,530.97 731.32,530.83 732.60,530.65 733.88,530.44 735.16,530.18 736.44,529.89 737.73,529.56 739.01,529.19 740.29,528.79 741.57,528.35 742.85,527.87 744.13,527.35 745.41,526.80 746.70,526.22 747.98,525.59 749.26,524.94 750.54,524.24 751.82,523.51 753.11,522.75 754.39,521.95 755.67,521.12 756.95,520.26 758.23,519.36 759.51,518.43 760.79,517.47 762.08,516.48 763.36,515.45 764.64,514.39 765.92,513.30 767.20,512.18 768.48,511.03 769.77,509.85 771.05,508.64 772.33,507.40 773.61,506.13 774.89,504.83 776.17,503.50 777.46,502.14 778.74,500.75 780.02,499.33 781.30,497.89 782.58,496.41 783.87,494.91 785.15,493.37 786.43,491.81 787.71,490.21 788.99,488.59 790.27,486.94 791.56,485.25 792.84,483.54 794.12,481.79 795.40,480.01" class="gry"/>
<line x1="549.32" y1="540.5" x2="549.32" y2="536.2" class="tick"/>
<line x1="549.32" y1="325.7" x2="549.32" y2="330.0" class="tick"/>
<line x1="610.84" y1="540.5" x2="610.84" y2="536.2" class="tick"/>
<line x1="610.84" y1="325.7" x2="610.84" y2="330.0" class="tick"/>
<line x1="672.36" y1="540.5" x2="672.36" y2="536.2" class="tick"/>
<line x1="672.36" y1="325.7" x2="672.36" y2="330.0" class="tick"/>
<line x1="733.88" y1="540.5" x2="733.88" y2="536.2" class="tick"/>
<line x1="733.88" y1="325.7" x2="733.88" y2="330.0" class="tick"/>
<line x1="487.8" y1="518.30" x2="492.1" y2="518.30" class="tick"/>
<line x1="795.4" y1="518.30" x2="791.1" y2="518.30" class="tick"/>
<line x1="487.8" y1="479.80" x2="492.1" y2="479.80" class="tick"/>
<line x1="795.4" y1="479.80" x2="791.1" y2="479.80" class="tick"/>
<line x1="487.8" y1="441.30" x2="492.1" y2="441.30" class="tick"/>
<line x1="795.4" y1="441.30" x2="791.1" y2="441.30" class="tick"/>
<line x1="487.8" y1="402.80" x2="492.1" y2="402.80" class="tick"/>
<line x1="795.4" y1="402.80" x2="791.1" y2="402.80" class="tick"/>
<line x1="487.8" y1="364.30" x2="492.1" y2="364.30" class="tick"/>
<line x1="795.4" y1="364.30" x2="791.1" y2="364.30" class="tick"/>
<rect x="487.8" y="325.7" width="307.60" height="214.80" class="box"/>
<text x="487.50" y="564.10" class="tl" text-anchor="middle">0</text>
<text x="549.02" y="564.10" class="tl" text-anchor="middle">0.2</text>
<text x="610.54" y="564.10" class="tl" text-anchor="middle">0.4</text>
<text x="672.06" y="564.10" class="tl" text-anchor="middle">0.6</text>
<text x="733.58" y="564.10" class="tl" text-anchor="middle">0.8</text>
<text x="795.10" y="564.10" class="tl" text-anchor="middle">1</text>
<text x="481.00" y="524.40" class="tl" text-anchor="end">0</text>
<text x="481.00" y="485.90" class="tl" text-anchor="end">0.1</text>
<text x="481.00" y="447.40" class="tl" text-anchor="end">0.2</text>
<text x="481.00" y="408.90" class="tl" text-anchor="end">0.3</text>
<text x="481.00" y="370.40" class="tl" text-anchor="end">0.4</text>
<text x="583.40" y="586.80" class="al" text-anchor="start" textLength="72.20" lengthAdjust="spacingAndGlyphs">Position</text>
<text x="663.60" y="586.80" class="al it" text-anchor="start" textLength="11.00" lengthAdjust="spacingAndGlyphs">x</text>
<path d="M687.00,571.40 H684.40 V591.00 H687.00" class="brk"/><path d="M687.50,582.10 H693.70" class="hyp"/><path d="M694.50,571.40 H697.20 V591.00 H694.50" class="brk"/>
<g transform="translate(447.80,433.70) rotate(-90)">
<text x="-60.20" y="0.00" class="al" text-anchor="start" textLength="76.00" lengthAdjust="spacingAndGlyphs">Pressure</text>
<text x="21.40" y="0.00" class="al it" text-anchor="start" textLength="11.60" lengthAdjust="spacingAndGlyphs">p</text>
<path d="M46.60,-15.40 H44.00 V4.20 H46.60" class="brk"/><path d="M47.10,-4.70 H53.30" class="hyp"/><path d="M54.10,-15.40 H56.80 V4.20 H54.10" class="brk"/>
</g>
<rect x="565.00" y="333.10" width="223.40" height="43.30" class="lbox"/>
<line x1="567.60" y1="344.40" x2="596.10" y2="344.40" class="blk"/>
<line x1="567.60" y1="365.20" x2="596.10" y2="365.20" class="gry"/>
<text x="598.30" y="348.10" class="lt" text-anchor="start" textLength="72.40" lengthAdjust="spacingAndGlyphs">HD-PINN</text>
<text x="678.90" y="348.10" class="lt" text-anchor="start" textLength="31.40" lengthAdjust="spacingAndGlyphs">with</text>
<text x="717.90" y="348.10" class="lt it" text-anchor="start" textLength="10.80" lengthAdjust="spacingAndGlyphs">L</text>
<text x="728.30" y="351.70" class="sub" text-anchor="start" textLength="11.40" lengthAdjust="spacingAndGlyphs">∞</text>
<text x="742.60" y="348.10" class="lt" text-anchor="start" textLength="43.60" lengthAdjust="spacingAndGlyphs">-norm</text>
<text x="598.30" y="369.30" class="lt" text-anchor="start" textLength="64.00" lengthAdjust="spacingAndGlyphs">ifas-DDS</text>
<text x="670.70" y="369.30" class="lt" text-anchor="start" textLength="44.40" lengthAdjust="spacingAndGlyphs">(rigid)</text>
</svg>
</div>
</body></html>
